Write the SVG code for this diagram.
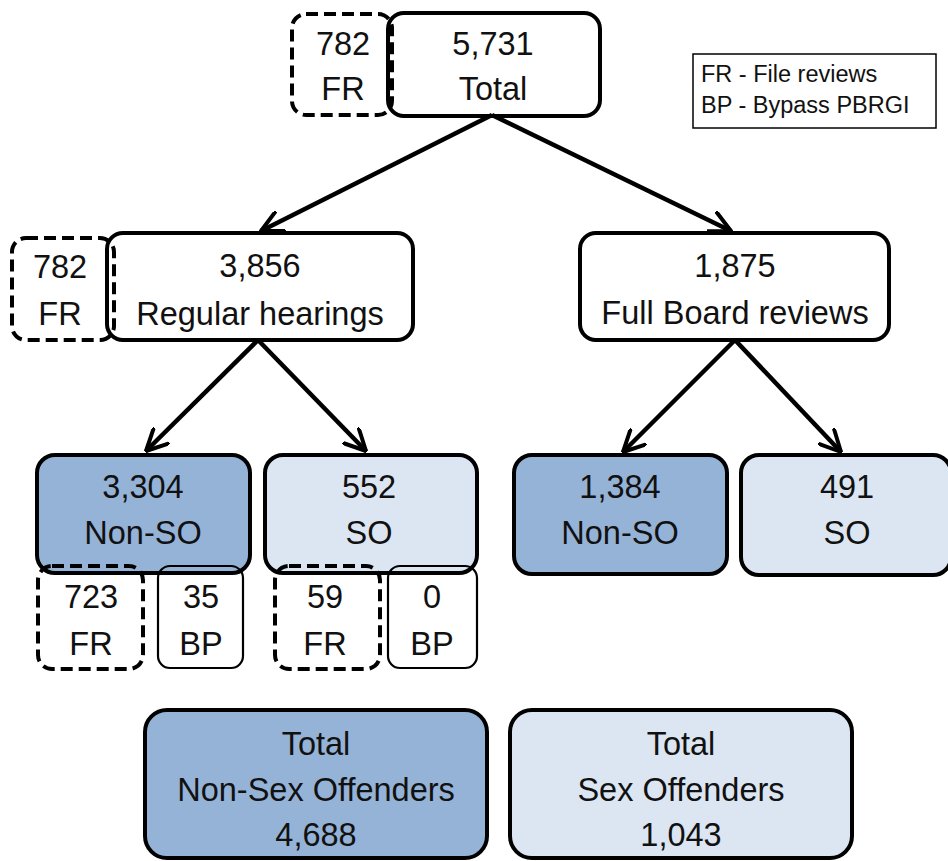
<svg xmlns="http://www.w3.org/2000/svg" width="948" height="861" viewBox="0 0 948 861">
<style>
text{font-family:"Liberation Sans",Arial,sans-serif;font-size:32.5px;fill:#111;text-anchor:middle}
.legend{font-size:23.5px;text-anchor:start}
.box{fill:#fff;stroke:#000;stroke-width:4}
.dash{fill:none;stroke:#000;stroke-width:4;stroke-dasharray:12,6}
.sub{fill:none;stroke:#000;stroke-width:2.2}
.dark{fill:#95B3D7;stroke:#000;stroke-width:4}
.light{fill:#DCE6F2;stroke:#000;stroke-width:4}
.conn{stroke:#000;stroke-width:4.5;fill:none;marker-end:url(#arr)}
</style>
<defs>
<marker id="arr" viewBox="0 0 10 10" refX="9.5" refY="5" markerWidth="5.2" markerHeight="5.2" orient="auto" markerUnits="strokeWidth">
<path d="M0.5,0.5 L9.5,5 L0.5,9.5" fill="none" stroke="#000" stroke-width="1.7" stroke-linecap="round" stroke-linejoin="round"/>
</marker>
</defs>
<rect width="948" height="861" fill="#fff"/>

<g id="legend">
<rect x="693" y="54" width="243" height="74" fill="#fff" stroke="#000" stroke-width="1.5"/>
<text class="legend" x="701" y="82">FR - File reviews</text>
<text class="legend" x="701" y="113">BP - Bypass PBRGI</text>
</g>

<g id="total">
<rect class="box" x="388" y="13" width="212" height="103" rx="16"/>
<text x="493" y="55">5,731</text>
<text x="493" y="100">Total</text>
</g>
<g id="total-fr">
<rect class="dash" x="292" y="14" width="100" height="101" rx="14"/>
<text x="343" y="55">782</text>
<text x="343" y="100">FR</text>
</g>

<g id="regular">
<rect class="box" x="107" y="233" width="306" height="107" rx="16"/>
<text x="260" y="277">3,856</text>
<text x="260" y="325">Regular hearings</text>
</g>
<g id="regular-fr">
<rect class="dash" x="12" y="238" width="102" height="102" rx="14"/>
<text x="60" y="278">782</text>
<text x="60" y="325">FR</text>
</g>

<g id="fullboard">
<rect class="box" x="580" y="233" width="309" height="107" rx="16"/>
<text x="735" y="277">1,875</text>
<text x="735" y="324">Full Board reviews</text>
</g>

<g id="rh-nonso">
<rect class="dark" x="37" y="455" width="213" height="118" rx="18"/>
<text x="143" y="498">3,304</text>
<text x="143" y="544">Non-SO</text>
</g>
<g id="rh-so">
<rect class="light" x="265" y="455" width="212" height="118" rx="18"/>
<text x="369" y="498">552</text>
<text x="369" y="544">SO</text>
</g>
<g id="fb-nonso">
<rect class="dark" x="514" y="455" width="213" height="119" rx="18"/>
<text x="620" y="498">1,384</text>
<text x="620" y="544">Non-SO</text>
</g>
<g id="fb-so">
<rect class="light" x="741" y="455" width="210" height="120" rx="18"/>
<text x="847" y="498">491</text>
<text x="847" y="544">SO</text>
</g>

<g id="nonso-fr">
<rect class="dash" x="38" y="566" width="105" height="103" rx="14"/>
<text x="91" y="608">723</text>
<text x="91" y="655">FR</text>
</g>
<g id="nonso-bp">
<rect class="sub" x="158" y="566" width="85" height="102" rx="12"/>
<text x="201" y="608">35</text>
<text x="201" y="655">BP</text>
</g>
<g id="so-fr">
<rect class="dash" x="275" y="566" width="105" height="103" rx="14"/>
<text x="325" y="608">59</text>
<text x="325" y="655">FR</text>
</g>
<g id="so-bp">
<rect class="sub" x="388" y="566" width="89" height="102" rx="12"/>
<text x="432" y="608">0</text>
<text x="432" y="655">BP</text>
</g>

<g id="total-nonsex">
<rect class="dark" x="145" y="710" width="342" height="148" rx="22"/>
<text x="316" y="755">Total</text>
<text x="316" y="801">Non-Sex Offenders</text>
<text x="316" y="846">4,688</text>
</g>
<g id="total-sex">
<rect class="light" x="510" y="710" width="342" height="148" rx="22"/>
<text x="681" y="755">Total</text>
<text x="681" y="801">Sex Offenders</text>
<text x="681" y="846">1,043</text>
</g>

<g id="connectors">
<line class="conn" x1="492" y1="115" x2="261" y2="231"/>
<line class="conn" x1="492" y1="115" x2="731" y2="231"/>
<line class="conn" x1="258" y1="340" x2="146" y2="451"/>
<line class="conn" x1="258" y1="340" x2="366" y2="451"/>
<line class="conn" x1="735" y1="340" x2="623" y2="452"/>
<line class="conn" x1="735" y1="340" x2="841" y2="452"/>
</g>
</svg>
